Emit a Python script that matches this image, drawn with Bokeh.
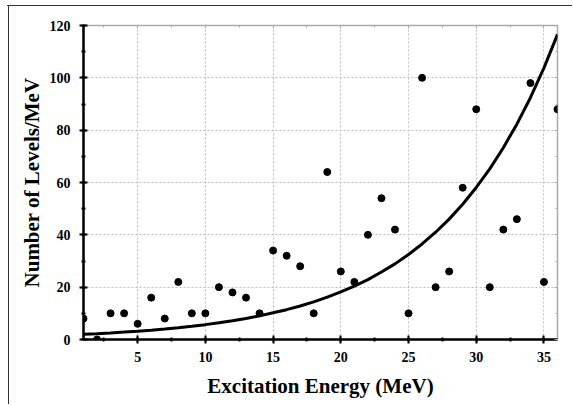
from bokeh.plotting import figure
from bokeh.models import SingleIntervalTicker, LinearAxis, Range1d, CustomJSTickFormatter
from bokeh.embed import file_html
from bokeh.resources import INLINE

# Data
energy = list(range(1, 37))
levels = [8, 0, 10, 10, 6, 16, 8, 22, 10, 10, 20, 18, 16, 10, 34, 32, 28, 10,
          64, 26, 22, 40, 54, 42, 10, 100, 20, 26, 58, 88, 20, 42, 46, 98, 22, 88]

curve_x = list(range(1, 37))
curve_y = [2.0, 2.24, 2.52, 2.83, 3.18, 3.57, 4.01, 4.50, 5.06, 5.68, 6.38, 7.17,
           8.05, 9.04, 10.2, 11.4, 12.8, 14.4, 16.2, 18.2, 20.4, 22.9, 25.8, 28.9,
           32.5, 36.5, 41.0, 46.0, 51.7, 58.1, 65.2, 73.3, 82.3, 92.4, 103.8, 116.6]

x_label = "Excitation Energy (MeV)"
y_label = "Number of Levels/MeV"

FONT = "Liberation Serif"

p = figure(width=572, height=404, output_backend="svg", toolbar_location=None,
           x_range=Range1d(1, 36), y_range=Range1d(0, 120),
           min_border_left=83, min_border_right=15, min_border_top=25,
           min_border_bottom=65)
p.border_fill_color = None
p.styles = {"background": "linear-gradient(#333,#333) 7px 5px / 566px 1px no-repeat, "
                          "linear-gradient(#333,#333) 8px 5px / 1px 400px no-repeat, white"}

p.outline_line_color = "#aaaaaa"
p.outline_line_width = 1.5

xt = SingleIntervalTicker(interval=5, num_minor_ticks=2)
yt = SingleIntervalTicker(interval=20, num_minor_ticks=2)
p.xaxis.ticker = xt
p.yaxis.ticker = yt
p.xgrid.ticker = xt
p.ygrid.ticker = yt

for g in (p.xgrid, p.ygrid):
    g.grid_line_color = "#bdbdbd"
    g.grid_line_dash = "2 2"
    g.grid_line_width = 1

for ax in (p.xaxis, p.yaxis):
    ax.axis_line_width = 2.5
    ax.axis_line_color = "black"
    ax.major_tick_line_width = 2
    ax.major_tick_line_color = "black"
    ax.minor_tick_line_width = 2
    ax.minor_tick_line_color = "black"
    ax.major_tick_in = 4
    ax.major_tick_out = 4
    ax.minor_tick_in = 2
    ax.minor_tick_out = 2
    ax.major_label_text_font = FONT
    ax.major_label_text_font_style = "bold"
    ax.major_label_text_font_size = "14px"
    ax.major_label_text_color = "black"
    ax.axis_label_text_font = FONT
    ax.axis_label_text_font_style = "bold"
    ax.axis_label_text_font_size = "21px"
    ax.axis_label_text_color = "black"

p.xaxis.axis_label = x_label
p.yaxis.axis_label = y_label
p.xaxis.major_label_standoff = 8
p.yaxis.major_label_standoff = 9
p.xaxis.axis_label_standoff = 9
p.yaxis.axis_label_standoff = 3

# light ticks on top and right borders
blank = CustomJSTickFormatter(code="return ''")
top = LinearAxis(ticker=xt, formatter=blank, axis_line_color=None,
                 major_tick_line_color="#aaaaaa", minor_tick_line_color="#aaaaaa",
                 major_tick_in=3, major_tick_out=0, minor_tick_in=2, minor_tick_out=0,
                 major_label_standoff=0)
right = LinearAxis(ticker=yt, formatter=blank, axis_line_color=None,
                   major_tick_line_color="#aaaaaa", minor_tick_line_color="#aaaaaa",
                   major_tick_in=3, major_tick_out=0, minor_tick_in=2, minor_tick_out=0,
                   major_label_standoff=0)
p.add_layout(top, "above")
p.add_layout(right, "right")

p.line(curve_x, curve_y, line_color="black", line_width=3)
p.scatter(energy, levels, size=7, fill_color="black", line_color="black")

open("out.html", "w").write(file_html(p, INLINE))
